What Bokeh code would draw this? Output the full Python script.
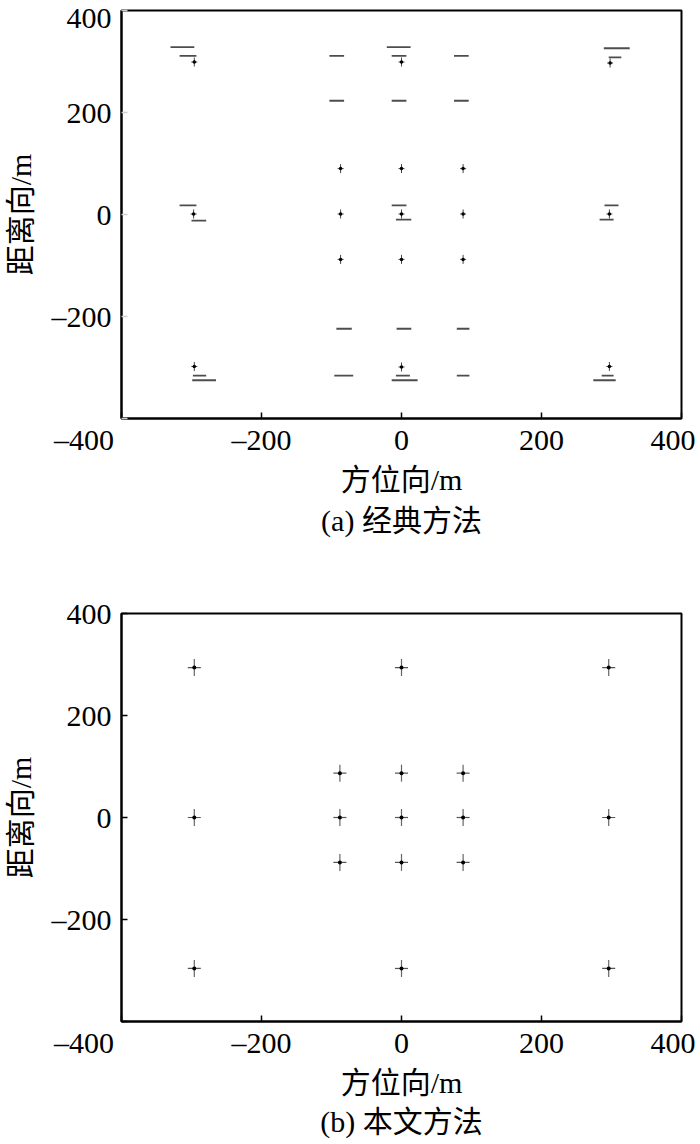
import math
from bokeh.plotting import figure
from bokeh.layouts import column
from bokeh.models import Range1d, FixedTicker, ColumnDataSource, Title
from bokeh.embed import file_html
from bokeh.resources import INLINE

# ---------------- data ----------------
tick_values = [-400, -200, 0, 200, 400]
tick_labels = ["\u2013400", "\u2013200", "0", "200", "400"]

x_title = "方位向/m"
y_title = "距离向/m"
caption_a = "(a) 经典方法"
caption_b = "(b) 本文方法"

# (a) classic method: defocused targets smeared into horizontal streaks
a_streak_x0 = [-330, -317, -317, -300, -298, -299,
               -103, -103, -93, -96,
               -21, -14, -14, -14, -8, -7, -8, -14,
               75, 75, 79, 79,
               289, 296, 290, 283, 286, 274]
a_streak_x1 = [-296, -293, -293, -279, -279, -265,
               -82, -82, -71, -69,
               13, 7, 7, 7, 14, 14, 12, 23,
               96, 96, 97, 97,
               326, 314, 310, 303, 303, 306]
a_streak_y = [328, 311, 18, -12, -316, -325,
              311, 223, -224, -316,
              328, 311, 223, 18, -10, -224, -316, -325,
              311, 223, -224, -316,
              326, 308, 18, -10, -316, -325]
a_point_x = [-296, -297, -296, 0, 0, -87, 0, 88, -87, 0, 88, -87, 0, 88, 298, 297, 297]
a_point_y = [299, 1, -298, 299, -299, 90, 90, 90, 1, 1, 1, -88, -88, -88, 297, 1, -298]

# (b) proposed method: well focused point targets
b_point_x = [-296, 0, 296, -88, 0, 88, -296, -88, 0, 88, 296, -88, 0, 88, -296, 0, 296]
b_point_y = [294, 294, 294, 87, 87, 87, 0, 0, 0, 0, 0, -88, -88, -88, -296, -296, -296]

# ---------------- styling ----------------
SERIF = "Liberation Serif"
MIXED = "Liberation Serif, Noto Sans CJK SC"
FS = "30px"

# x tick labels: outer ones padded so they sit like the reference and stay on the page
x_label_map = {tick_values[0]: tick_labels[0] + "\u2003\u2003\u2002",
               tick_values[1]: tick_labels[1],
               tick_values[2]: tick_labels[2],
               tick_values[3]: tick_labels[3],
               tick_values[4]: tick_labels[4] + "\u2009"}
# the y axis shows no label at its bottom tick (the x axis's -400 is there)
y_label_map = {v: t for v, t in zip(tick_values, tick_labels)}
y_label_map[tick_values[0]] = ""


def make_panel(height, top_border, bottom_border, caption, cap_standoff):
    p = figure(width=700, height=height, output_backend="svg", toolbar_location=None,
               x_range=Range1d(-400, 400), y_range=Range1d(-400, 400),
               frame_width=560, frame_height=408,
               min_border_left=120, min_border_right=20,
               min_border_top=top_border, min_border_bottom=bottom_border,
               background_fill_color="white", border_fill_color="white")
    p.grid.visible = False
    p.outline_line_color = "black"
    p.outline_line_width = 2
    for ax in (p.xaxis[0], p.yaxis[0]):
        ax.ticker = FixedTicker(ticks=tick_values)
        ax.minor_tick_line_color = None
        ax.major_tick_in = 6
        ax.major_tick_out = 0
        ax.major_tick_line_width = 1.5
        ax.axis_line_width = 2
        ax.major_label_text_font = SERIF
        ax.major_label_text_font_size = FS
        ax.major_label_text_color = "black"
        ax.axis_label_text_font = MIXED
        ax.axis_label_text_font_size = FS
        ax.axis_label_text_font_style = "normal"
        ax.axis_label_text_color = "black"
    p.xaxis.major_label_overrides = dict(x_label_map)
    p.yaxis.major_label_overrides = dict(y_label_map)
    p.xaxis.major_label_standoff = 4
    p.yaxis.major_label_standoff = 10
    p.xaxis.axis_label = x_title
    p.yaxis.axis_label = y_title
    p.xaxis.axis_label_standoff = 4
    p.yaxis.axis_label_standoff = 12
    cap = Title(text=caption, align="center", offset=-11, standoff=cap_standoff,
                text_font=MIXED, text_font_size=FS, text_font_style="normal",
                text_color="black")
    p.add_layout(cap, "below")
    return p


# ---------------- panel (a) ----------------
p1 = make_panel(568, 10, 150, caption_a, 7)
p1.yaxis.major_tick_line_color = "#d0d0d0"

src_a = ColumnDataSource(dict(x0=a_streak_x0, x1=a_streak_x1, y=a_streak_y))
p1.segment(x0="x0", y0="y", x1="x1", y1="y", source=src_a,
           line_color="#2e2e2e", line_width=1.8, line_alpha=0.85)
p1.scatter(a_point_x, a_point_y, marker="dash", angle=math.pi / 2, size=9,
           line_color="#444444", line_width=1)
p1.scatter(a_point_x, a_point_y, marker="dash", size=6,
           line_color="#444444", line_width=1)
p1.scatter(a_point_x, a_point_y, marker="circle", size=3.5,
           fill_color="black", line_color=None)

# ---------------- panel (b) ----------------
p2 = make_panel(576, 45, 123, caption_b, 3)
p2.scatter(b_point_x, b_point_y, marker="dash", angle=math.pi / 2, size=17,
           line_color="#666666", line_width=1.2)
p2.scatter(b_point_x, b_point_y, marker="dash", size=13,
           line_color="#555555", line_width=1.2)
p2.scatter(b_point_x, b_point_y, marker="circle", size=4,
           fill_color="black", line_color=None)

layout = column(p1, p2, spacing=0)
open("out.html", "w").write(file_html(layout, INLINE))
